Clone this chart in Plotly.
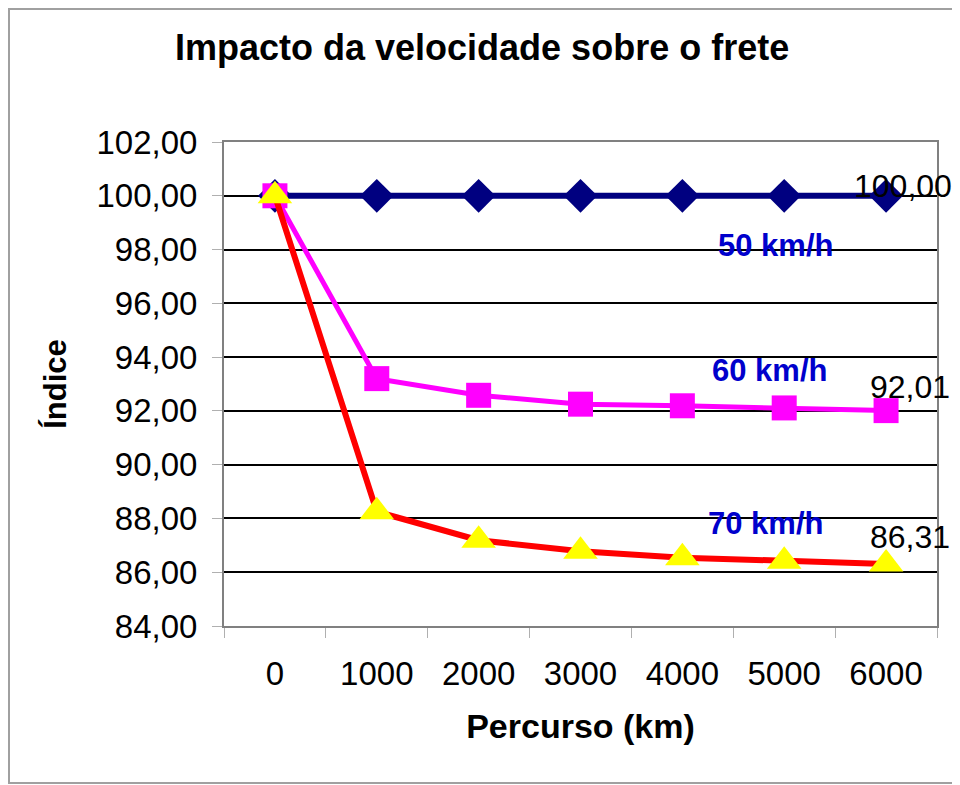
import plotly.graph_objects as go

percurso = ["0", "1000", "2000", "3000", "4000", "5000", "6000"]
v50 = [100.00, 100.00, 100.00, 100.00, 100.00, 100.00, 100.00]
v60 = [100.00, 93.20, 92.58, 92.25, 92.19, 92.11, 92.01]
v70 = [100.00, 88.25, 87.19, 86.78, 86.54, 86.41, 86.31]
series_names = ["50 km/h", "60 km/h", "70 km/h"]
y_ticks = [84, 86, 88, 90, 92, 94, 96, 98, 100, 102]

FONT = "Liberation Sans, Arial, sans-serif"

def br(v):
    return f"{v:.2f}".replace(".", ",")

fig = go.Figure()
fig.add_trace(go.Scatter(
    x=percurso, y=v50, mode="lines+markers", name=series_names[0],
    line=dict(color="#000080", width=6),
    marker=dict(symbol="diamond", size=26, color="#000080"),
))
fig.add_trace(go.Scatter(
    x=percurso, y=v60, mode="lines+markers", name=series_names[1],
    line=dict(color="#FF00FF", width=5),
    marker=dict(symbol="square", size=25, color="#FF00FF"),
))
fig.add_trace(go.Scatter(
    x=percurso, y=v70, mode="lines+markers", name=series_names[2],
    line=dict(color="#FF0000", width=6),
    marker=dict(symbol="triangle-up", size=30, color="#FFFF00"),
))

last = len(percurso) - 1
annotations = []
# end-value data labels
for vals, dx, dy in [(v50, 17, 10), (v60, 24, 24), (v70, 24, 27)]:
    annotations.append(dict(
        x=last, y=vals[-1], xref="x", yref="y",
        text=br(vals[-1]), showarrow=False, xshift=dx, yshift=dy,
        font=dict(family=FONT, size=32, color="#000000"),
    ))
# series name labels
for name, xa, ya in [(series_names[0], 4.91, 98.14),
                     (series_names[1], 4.86, 93.5),
                     (series_names[2], 4.82, 87.82)]:
    annotations.append(dict(
        x=xa, y=ya, xref="x", yref="y", text=f"<b>{name}</b>",
        showarrow=False,
        font=dict(family=FONT, size=31, color="#0000CC"),
    ))

W, H = 952, 777
L, T = 216, 134
PW, PH = 713, 484
fig.update_layout(
    width=W, height=H,
    margin=dict(l=L, r=W - L - PW, t=T, b=H - T - PH),
    paper_bgcolor="white", plot_bgcolor="white",
    showlegend=False,
    title=dict(text="<b>Impacto da velocidade sobre o frete</b>",
               x=167/W, xanchor="left", y=1-39/H, yanchor="middle",
               font=dict(family=FONT, size=36, color="#000000")),
    annotations=annotations,
    shapes=[dict(type="rect", xref="paper", yref="paper",
                 x0=-(L-1)/PW, x1=1+(W-L-PW-2)/PW, y0=-(H-T-PH-2)/PH, y1=1+(T-1)/PH,
                 line=dict(color="#A0A0A0", width=2))],
)

fig.update_xaxes(
    type="category", range=[-0.5, 6.5],
    tickson="boundaries", ticks="outside", ticklen=10, tickwidth=1, tickcolor="#B0B0B0",
    ticklabelstandoff=17,
    tickfont=dict(family=FONT, size=33, color="#000000"),
    showgrid=False, showline=True, linecolor="#808080", linewidth=2, mirror=True,
    title=dict(text="<b>Percurso (km)</b>", standoff=24,
               font=dict(family=FONT, size=34, color="#000000")),
)
fig.update_yaxes(
    range=[84, 102], tickvals=y_ticks, ticktext=[br(t) for t in y_ticks],
    ticks="outside", ticklen=10, tickwidth=1, tickcolor="#B0B0B0",
    ticklabelstandoff=8,
    tickfont=dict(family=FONT, size=33, color="#000000"),
    showgrid=True, gridcolor="#000000", gridwidth=2,
    zeroline=False, showline=True, linecolor="#808080", linewidth=2, mirror=True,
    title=dict(text="<b>Índice</b>", standoff=21,
               font=dict(family=FONT, size=31, color="#000000")),
)

fig.write_html("out.html")
